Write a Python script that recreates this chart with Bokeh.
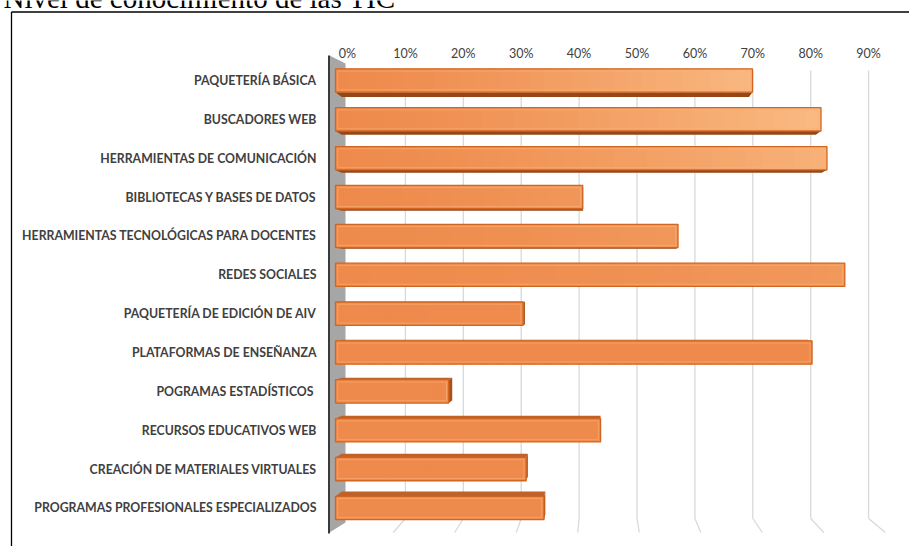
from bokeh.plotting import figure
from bokeh.models import Range1d
from bokeh.core.properties import value
from bokeh.embed import file_html
from bokeh.resources import INLINE

title_text = "Nivel de conocimiento de las TIC"
categories = [
    "PAQUETERÍA BÁSICA",
    "BUSCADORES WEB",
    "HERRAMIENTAS DE COMUNICACIÓN",
    "BIBLIOTECAS Y BASES DE DATOS",
    "HERRAMIENTAS TECNOLÓGICAS PARA DOCENTES",
    "REDES SOCIALES",
    "PAQUETERÍA DE EDICIÓN DE AIV",
    "PLATAFORMAS DE ENSEÑANZA",
    "POGRAMAS ESTADÍSTICOS ",
    "RECURSOS EDUCATIVOS WEB",
    "CREACIÓN DE MATERIALES VIRTUALES",
    "PROGRAMAS PROFESIONALES ESPECIALIZADOS",
]
values = [70, 81.5, 82.5, 41.5, 57.5, 85.5, 31.5, 80, 19, 44.5, 32, 35]
tick_values = [0, 10, 20, 30, 40, 50, 60, 70, 80, 90]
tick_labels = ["0%", "10%", "20%", "30%", "40%", "50%", "60%", "70%", "80%", "90%"]

# ---- geometry (pixels, page = canvas) ----
W, H = 909, 546
X0, KX = 335.0, 5.957     # front face: 0% position, px per %
Y0, KY = 80.0, 38.86      # row 0 centre, px per row
WX0, WKX = 347.0, 5.79    # back wall scale
VPX, VPY = 600.0, 294.0   # vanishing point
S = 0.9766                # depth scale


def fx(px):
    return (px - X0) / KX


def fy(py):
    return (py - Y0) / KY


def wx(px):
    return (px - WX0) / WKX


VX, VY = fx(VPX), fy(VPY)


def bx(x):
    return x + (1 - S) * (VX - x)


def by(y):
    return y + (1 - S) * (VY - y)


p = figure(
    width=W, height=H, output_backend="svg", toolbar_location=None,
    x_axis_location=None, y_axis_location=None,
    x_range=Range1d(fx(0), fx(W)),
    y_range=Range1d(start=fy(H), end=fy(0)),
    min_border_left=0, min_border_top=0, min_border_right=0, min_border_bottom=0,
    outline_line_color=None, background_fill_color="white", border_fill_color="white",
)
p.xgrid.visible = False
p.ygrid.visible = False
p.extra_x_ranges = {"wall": Range1d(wx(0), wx(W))}

n = len(values)

# caption (cut off by the top edge) and picture frame
p.text(x=[fx(3)], y=[fy(-3)], text=[title_text], text_font=value("Liberation Serif"),
       text_font_size="29px", text_baseline="alphabetic", text_align="left", text_color="black")
p.segment(x0=[fx(11), fx(11)], x1=[fx(11), fx(W + 20)], y0=[fy(11.5), fy(11.5)],
          y1=[fy(H + 20), fy(11.5)], line_color="black", line_width=1.3)

# category labels
p.text(x=[fx(316)] * n, y=list(range(n)), text=categories, text_font=value("Lato"),
       text_font_style="bold", text_font_size="12.3px", text_color="#404040",
       text_align="right", text_baseline="middle")

# percent labels (back-wall scale)
p.text(x=tick_values, y=[fy(52.5)] * len(tick_values), text=tick_labels, x_range_name="wall",
       text_font=value("Lato"), text_font_size="12.5px", text_color="#404040",
       text_align="center", text_baseline="middle")

# gridlines on back wall + floor
gv = tick_values[1:]
top_y, wall_bot, floor_bot = fy(70), fy(518), fy(532)
k = (532 - VPY) / (518 - VPY)
p.segment(x0=gv, x1=gv, y0=[top_y] * len(gv), y1=[wall_bot] * len(gv),
          x_range_name="wall", line_color="#d9d9d9", line_width=1.3)
fend = [wx(VPX + (WX0 + WKX * v - VPX) * k) for v in gv]
p.segment(x0=gv, x1=fend, y0=[wall_bot] * len(gv), y1=[floor_bot] * len(gv),
          x_range_name="wall", line_color="#d9d9d9", line_width=1.3)

# side wall
p.patch(x=[fx(329), fx(345), fx(345), fx(329)], y=[fy(55), fy(63), fy(522), fy(532)],
        fill_color="#a6a6a6", line_color=None)
p.segment(x0=[fx(328.5)], x1=[fx(328.5)], y0=[fy(55)], y1=[fy(533)],
          line_color="#3a3a3a", line_width=2)

# bars
h = 0.30
base = (0xEE, 0x8A, 0x4C)
light = (0xFD, 0xCA, 0x94)


def mix(t):
    t = max(0.0, min(1.0, t))
    return "#%02x%02x%02x" % tuple(int(round(a + (b - a) * t)) for a, b in zip(base, light))


face_xs, face_ys, face_cols = [], [], []
sl, sr, st, sb, sc = [], [], [], [], []
N = 30
for i, v in enumerate(values):
    t0, b0 = i - h, i + h
    if by(b0) > b0:
        face_xs.append([0, v, bx(v), bx(0)])
        face_ys.append([b0, b0, by(b0), by(b0)])
        face_cols.append("#94471a")
    else:
        face_xs.append([0, v, bx(v), bx(0)])
        face_ys.append([t0, t0, by(t0), by(t0)])
        face_cols.append("#c0612a")
    if bx(v) > v:
        face_xs.append([v, v, bx(v), bx(v)])
        face_ys.append([t0, b0, by(b0), by(t0)])
        face_cols.append("#a9531c")
    fade = max(0.0, 1 - i / 6.5)
    for m in range(N):
        l, r = v * m / N, v * (m + 1) / N
        sl.append(l)
        sr.append(min(v, r + v / N * 0.6))
        st.append(t0)
        sb.append(b0)
        sc.append(mix(((l + r) / 2 / 90) ** 1.3 * fade))

p.patches(xs=face_xs, ys=face_ys, fill_color=face_cols, line_color=None)
p.quad(left=sl, right=sr, top=st, bottom=sb, fill_color=sc, line_color=None)
p.quad(left=[0] * n, right=values, top=[i - h for i in range(n)], bottom=[i + h for i in range(n)],
       fill_color=None, line_color="#d2651f", line_width=1.3)
ix, iy = 2.2 / KX, 2.2 / KY
p.quad(left=[ix] * n, right=[v - ix for v in values],
       top=[i - h + iy for i in range(n)], bottom=[i + h - iy for i in range(n)],
       fill_color=None, line_color="#f9b27a", line_alpha=0.6, line_width=1)

open("out.html", "w").write(file_html(p, INLINE))
